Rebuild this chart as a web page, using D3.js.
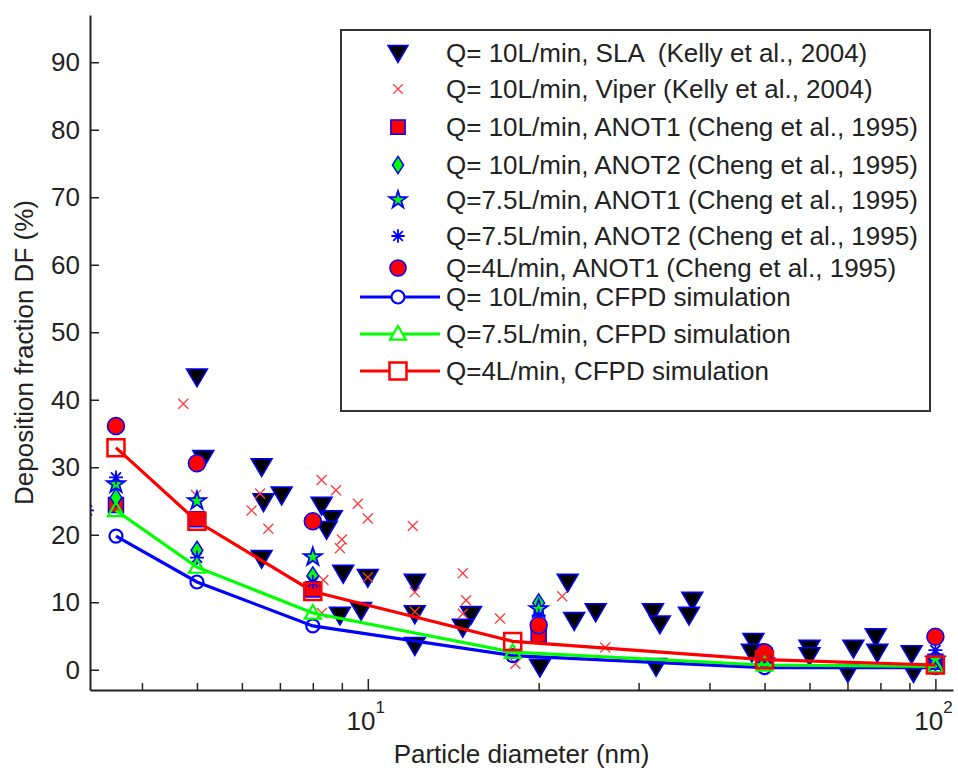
<!DOCTYPE html>
<html>
<head>
<meta charset="utf-8">
<script src="https://cdn.jsdelivr.net/npm/d3@7"></script>
<style>
  body { margin: 0; background: #fff; }
  text { font-family: "Liberation Sans", Arial, sans-serif; fill: #222; }
</style>
</head>
<body>
<div id="chart"></div>
<script>
// axis limits and ticks
const xLimits = [3.24, 107.4];
const yLimits = [-3, 97];
const yTicks = [0, 10, 20, 30, 40, 50, 60, 70, 80, 90];
const xMajorTicks = [10, 100];
const xMajorLabels = ["1", "2"];
const xMinorTicks = [4, 5, 6, 7, 8, 9, 20, 30, 40, 50, 60, 70, 80, 90];

// Kelly et al. 2004, SLA replica
const slaD = [5, 5.13, 6.5, 6.55, 7.05, 6.5, 8.29, 8.64, 8.46, 9.05, 10, 12.1, 8.93, 9.73, 12.1, 12.1, 15.2, 14.7,
    22.5, 23.1, 25.2, 20.1, 31.8, 32.7, 32.2, 37.3, 36.8, 47.8, 47.5, 60, 60, 71.7, 70.1, 78.5, 79, 90.8, 91.5];
const slaV = [43.4, 31.3, 30.1, 24.9, 25.9, 16.5, 24.4, 22.4, 20.8, 14.3, 13.7, 13.0, 8.1, 8.8, 8.3, 3.6, 8.2, 6.3,
    13.0, 7.3, 8.6, 0.4, 8.6, 6.8, 0.5, 10.3, 8.1, 4.2, 2.6, 3.2, 2.1, 3.2, -0.4, 4.9, 2.6, 2.4, -0.4];

// Kelly et al. 2004, Viper replica
const viperD = [4.73, 4.98, 6.24, 6.46, 6.68, 8.29, 8.79, 9.6, 10, 9.0, 8.93, 12.0, 8.35, 10, 12.1, 12.1,
    14.7, 14.9, 14.7, 17.1, 18.2, 22.0, 26.2, 8.3];
const viperV = [39.4, 25.9, 23.6, 26.1, 20.9, 28.1, 26.6, 24.6, 22.4, 19.3, 18.0, 21.3, 13.3, 13.7, 11.5, 8.6,
    14.3, 10.3, 8.3, 7.6, 0.9, 10.9, 3.3, 8.4];

// Cheng et al. 1995
const chengD = [3.6, 5, 8, 20, 50, 100];
const anot1Q10 = [24.4, 22.3, 11.9, 5.2, 2.1, 1.2];
const anot2Q10 = [25.5, 17.7, 13.9, 9.9, 1.8, 1.2];
const anot1Q75 = [27.5, 25.0, 16.7, 9.0, 1.3, 1.5];
const anot2Q75D = [3.2, 3.6, 5, 8, 20, 50, 100];
const anot2Q75 = [23.6, 28.5, 16.6, 13.0, 8.0, 2.0, 2.9];
const anot1Q4 = [36.1, 30.6, 22.0, 6.6, 2.6, 4.9];

// CFPD simulation
const cfpdD = [3.6, 5, 8, 18, 50, 100];
const cfpdQ10 = [19.8, 13.0, 6.5, 2.1, 0.3, 0.3];
const cfpdQ75 = [23.6, 15.2, 8.4, 2.6, 0.7, 0.5];
const cfpdQ4 = [32.9, 22.0, 11.6, 4.2, 1.5, 0.7];

const legendLabels = [
    "Q= 10L/min, SLA  (Kelly et al., 2004)",
    "Q= 10L/min, Viper (Kelly et al., 2004)",
    "Q= 10L/min, ANOT1 (Cheng et al., 1995)",
    "Q= 10L/min, ANOT2 (Cheng et al., 1995)",
    "Q=7.5L/min, ANOT1 (Cheng et al., 1995)",
    "Q=7.5L/min, ANOT2 (Cheng et al., 1995)",
    "Q=4L/min, ANOT1 (Cheng et al., 1995)",
    "Q= 10L/min, CFPD simulation",
    "Q=7.5L/min, CFPD simulation",
    "Q=4L/min, CFPD simulation"
];

const width = 958, height = 771;
const margin = {top: 15, right: 5, bottom: 81, left: 90};
const fontSize = "26px";

const svg = d3.select("#chart").append("svg")
    .attr("width", width)
    .attr("height", height);

const x = d3.scaleLog().domain(xLimits).range([margin.left, width - margin.right]);
const y = d3.scaleLinear().domain(yLimits).range([height - margin.bottom, margin.top]);

const BLUE = "#0000ff", GREEN = "#00ff00", RED = "#ff0000";

function markerPath(type, s) {
    const h = s / 2;
    if (type === "tridown") return `M${-h},${-h * 0.75}L${h},${-h * 0.75}L0,${h * 0.95}Z`;
    if (type === "triup") return `M0,${-h}L${h},${h * 0.7}L${-h},${h * 0.7}Z`;
    if (type === "x") return `M${-h},${-h}L${h},${h}M${-h},${h}L${h},${-h}`;
    if (type === "square") return `M${-h},${-h}H${h}V${h}H${-h}Z`;
    if (type === "diamond") return `M0,${-h}L${h * 0.65},0L0,${h}L${-h * 0.65},0Z`;
    if (type === "circle") return d3.symbol(d3.symbolCircle, Math.PI * h * h)();
    if (type === "star") return d3.symbol(d3.symbolStar, s * s * 0.45)();
    if (type === "asterisk") {
        const d = h * 0.72;
        return `M0,${-h}V${h}M${-h},0H${h}M${-d},${-d}L${d},${d}M${-d},${d}L${d},${-d}`;
    }
}

const styles = {
    sla:    {type: "tridown", size: 21, fill: "#000", stroke: BLUE, sw: 1.5},
    viper:  {type: "x", size: 10, fill: "none", stroke: "#ff3b3b", sw: 1.3},
    a1q10:  {type: "square", size: 15, fill: RED, stroke: BLUE, sw: 1.5},
    a2q10:  {type: "diamond", size: 18, fill: GREEN, stroke: BLUE, sw: 1.5},
    a1q75:  {type: "star", size: 15, fill: GREEN, stroke: BLUE, sw: 1.8},
    a2q75:  {type: "asterisk", size: 14, fill: "none", stroke: BLUE, sw: 1.8},
    a1q4:   {type: "circle", size: 17, fill: RED, stroke: BLUE, sw: 1.5},
    c10:    {type: "circle", size: 13, fill: "none", stroke: BLUE, sw: 2.2},
    c75:    {type: "triup", size: 16, fill: "none", stroke: GREEN, sw: 2.2},
    c4:     {type: "square", size: 17, fill: "none", stroke: RED, sw: 2.5}
};

svg.append("clipPath").attr("id", "plotclip")
    .append("rect")
    .attr("x", margin.left).attr("y", margin.top)
    .attr("width", width - margin.left - margin.right)
    .attr("height", height - margin.top - margin.bottom);

const plot = svg.append("g").attr("clip-path", "url(#plotclip)");

function drawMarkers(xs, ys, st) {
    plot.append("g").selectAll("path")
        .data(xs.map((d, i) => [d, ys[i]]))
        .enter()
        .append("path")
        .attr("transform", d => "translate(" + x(d[0]) + "," + y(d[1]) + ")")
        .attr("d", markerPath(st.type, st.size))
        .attr("fill", st.fill)
        .attr("stroke", st.stroke)
        .attr("stroke-width", st.sw);
}

drawMarkers(slaD, slaV, styles.sla);
drawMarkers(viperD, viperV, styles.viper);
drawMarkers(chengD, anot1Q10, styles.a1q10);
drawMarkers(chengD, anot2Q10, styles.a2q10);
drawMarkers(chengD, anot1Q75, styles.a1q75);
drawMarkers(anot2Q75D, anot2Q75, styles.a2q75);
drawMarkers(chengD, anot1Q4, styles.a1q4);

const line = d3.line()
    .x(d => x(d[0]))
    .y(d => y(d[1]));

[[cfpdQ10, BLUE, styles.c10], [cfpdQ75, GREEN, styles.c75], [cfpdQ4, RED, styles.c4]].forEach(function (s) {
    const pts = cfpdD.map((d, i) => [d, s[0][i]]);
    plot.append("path")
        .datum(pts)
        .attr("fill", "none")
        .attr("stroke", s[1])
        .attr("stroke-width", 3.2)
        .attr("d", line);
    drawMarkers(cfpdD, s[0], s[2]);
});

// axes (box off, ticks inward)
const yAxis = d3.axisLeft(y)
    .tickValues(yTicks)
    .tickSizeInner(-9)
    .tickSizeOuter(0)
    .tickPadding(10);

const gy = svg.append("g")
    .attr("transform", "translate(" + margin.left + ",0)")
    .call(yAxis);
gy.selectAll("text").style("font-size", fontSize).attr("fill", "#222");

const xAxisMinor = d3.axisBottom(x)
    .tickValues(xMinorTicks)
    .tickSizeInner(-7)
    .tickSizeOuter(0)
    .tickFormat("");

const xAxisMajor = d3.axisBottom(x)
    .tickValues(xMajorTicks)
    .tickSizeInner(-11)
    .tickSizeOuter(0)
    .tickFormat("");

const gx = svg.append("g")
    .attr("transform", "translate(0," + (height - margin.bottom) + ")")
    .call(xAxisMinor);
const gx2 = svg.append("g")
    .attr("transform", "translate(0," + (height - margin.bottom) + ")")
    .call(xAxisMajor);
gx2.select(".domain").remove();

[gx, gx2, gy].forEach(function (g) {
    g.selectAll("line").attr("stroke", "#222").attr("stroke-width", 1.5);
    g.selectAll(".domain").attr("stroke", "#222").attr("stroke-width", 2);
});

const xl = svg.append("g").selectAll("text")
    .data(xMajorTicks)
    .enter()
    .append("text")
    .attr("x", d => x(d) - 2)
    .attr("y", height - margin.bottom + 40)
    .attr("text-anchor", "middle")
    .style("font-size", fontSize);
xl.append("tspan").text("10");
xl.append("tspan")
    .attr("dy", -17)
    .style("font-size", "17px")
    .text((d, i) => xMajorLabels[i]);

svg.append("text")
    .attr("x", (margin.left + width - margin.right) / 2)
    .attr("y", 763)
    .attr("text-anchor", "middle")
    .style("font-size", fontSize)
    .text("Particle diameter (nm)");

svg.append("text")
    .attr("transform", "translate(33," + ((margin.top + height - margin.bottom) / 2) + ") rotate(-90)")
    .attr("text-anchor", "middle")
    .style("font-size", fontSize)
    .text("Deposition fraction DF (%)");

// legend
const legendRowY = [53, 89, 127, 165, 200, 236, 268, 297, 334, 371];
const legendStyles = [styles.sla, styles.viper, styles.a1q10, styles.a2q10, styles.a1q75, styles.a2q75,
    styles.a1q4, styles.c10, styles.c75, styles.c4];
const legendLineColors = [null, null, null, null, null, null, null, BLUE, GREEN, RED];

const legend = svg.append("g");
legend.append("rect")
    .attr("x", 341).attr("y", 30)
    .attr("width", 589).attr("height", 381)
    .attr("fill", "#fff")
    .attr("stroke", "#333")
    .attr("stroke-width", 2);

legendLabels.forEach(function (label, i) {
    const ry = legendRowY[i];
    if (legendLineColors[i]) {
        legend.append("line")
            .attr("x1", 360).attr("x2", 440)
            .attr("y1", ry).attr("y2", ry)
            .attr("stroke", legendLineColors[i])
            .attr("stroke-width", 3.2);
    }
    const st = legendStyles[i];
    legend.append("path")
        .attr("transform", "translate(398," + ry + ")")
        .attr("d", markerPath(st.type, st.size * (i < 7 ? 0.95 : 1)))
        .attr("fill", legendLineColors[i] ? "#fff" : st.fill)
        .attr("stroke", st.stroke)
        .attr("stroke-width", st.sw);
    legend.append("text")
        .attr("x", 446)
        .attr("y", ry + 9)
        .attr("xml:space", "preserve")
        .style("white-space", "pre")
        .style("font-size", fontSize)
        .text(label);
});
</script>
</body>
</html>
